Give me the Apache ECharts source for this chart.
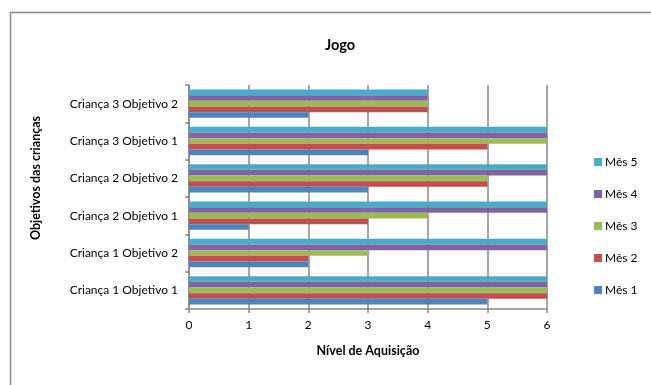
<!DOCTYPE html>
<html>
<head>
<meta charset="utf-8">
<script src="https://cdn.jsdelivr.net/npm/echarts@6/dist/echarts.min.js"></script>
<style>
  html, body { margin: 0; padding: 0; background: #fff; }
  #chart { width: 651px; height: 385px; }
</style>
</head>
<body>
<div id="chart"></div>
<script>
// Objectives, bottom to top on the category axis
const categories = [
  'Criança 1 Objetivo 1',
  'Criança 1 Objetivo 2',
  'Criança 2 Objetivo 1',
  'Criança 2 Objetivo 2',
  'Criança 3 Objetivo 1',
  'Criança 3 Objetivo 2'
];
const monthNames = ['Mês 1', 'Mês 2', 'Mês 3', 'Mês 4', 'Mês 5'];
const mes1 = [5, 2, 1, 3, 3, 2];
const mes2 = [6, 2, 3, 5, 5, 4];
const mes3 = [6, 3, 4, 5, 6, 4];
const mes4 = [6, 6, 6, 6, 6, 4];
const mes5 = [6, 6, 6, 6, 6, 4];
const monthValues = [mes1, mes2, mes3, mes4, mes5];
const monthColors = ['#4F81BD', '#C0504D', '#9BBB59', '#8064A2', '#4BACC6'];
const xTicks = [0, 1, 2, 3, 4, 5, 6];

const fontFamily = 'Lato, "Liberation Sans", sans-serif';
const gridGray = '#878787';

// Later months listed first so that Mês 1 sits at the bottom of each group
// and the legend reads Mês 5 ... Mês 1 from top to bottom.
const series = [];
for (let i = monthNames.length - 1; i >= 0; i--) {
  series.push({
    name: monthNames[i],
    type: 'bar',
    data: monthValues[i],
    barGap: '0%',
    barCategoryGap: '24%',
    itemStyle: { color: monthColors[i] },
    emphasis: { disabled: true }
  });
}

const chart = echarts.init(document.getElementById('chart'), null, { renderer: 'canvas' });
chart.setOption({
  animation: false,
  backgroundColor: '#fff',
  textStyle: { fontFamily: fontFamily },
  title: {
    text: 'Jogo',
    left: 335,
    top: 33,
    textAlign: 'center',
    textStyle: { fontFamily: fontFamily, fontSize: 14.5, fontWeight: 'bold', color: '#000' }
  },
  legend: {
    orient: 'vertical',
    left: 589,
    top: 151,
    itemWidth: 8,
    itemHeight: 8,
    itemGap: 20,
    icon: 'rect',
    selectedMode: false,
    textStyle: { fontFamily: fontFamily, fontSize: 12, color: '#000', padding: [0, 0, 0, -2] },
    data: monthNames.slice().reverse()
  },
  grid: { left: 189, right: 104, top: 85, bottom: 76, containLabel: false },
  xAxis: {
    type: 'value',
    min: xTicks[0],
    max: xTicks[xTicks.length - 1],
    interval: 1,
    name: 'Nível de Aquisição',
    nameLocation: 'middle',
    nameGap: 35,
    nameTextStyle: { fontFamily: fontFamily, fontSize: 12.5, fontWeight: 'bold', color: '#000' },
    axisLine: { show: true, lineStyle: { color: gridGray, width: 1.5 } },
    axisTick: { show: true, length: 4, lineStyle: { color: gridGray, width: 1.5 } },
    axisLabel: { margin: 10, fontSize: 12, color: '#000', fontFamily: fontFamily },
    splitLine: { show: true, lineStyle: { color: gridGray, width: 1.5 } }
  },
  yAxis: {
    type: 'category',
    data: categories,
    name: 'Objetivos das crianças',
    nameLocation: 'middle',
    nameGap: 147,
    nameRotate: 90,
    nameTextStyle: {
      fontFamily: fontFamily, fontSize: 12.5, fontWeight: 'bold', color: '#000',
      padding: [0, 0, 0, 38]
    },
    axisLine: { show: true, lineStyle: { color: gridGray, width: 1.5 } },
    axisTick: { show: true, length: 4, lineStyle: { color: gridGray, width: 1.5 } },
    axisLabel: { margin: 11, fontSize: 12, color: '#000', fontFamily: fontFamily },
    splitLine: { show: false }
  },
  graphic: [{
    type: 'rect',
    silent: true,
    shape: { x: 10.5, y: 12.5, width: 700, height: 420 },
    style: { fill: 'none', stroke: '#8a8a8a', lineWidth: 1.5 },
    z: -10
  }],
  series: series
});
</script>
</body>
</html>
